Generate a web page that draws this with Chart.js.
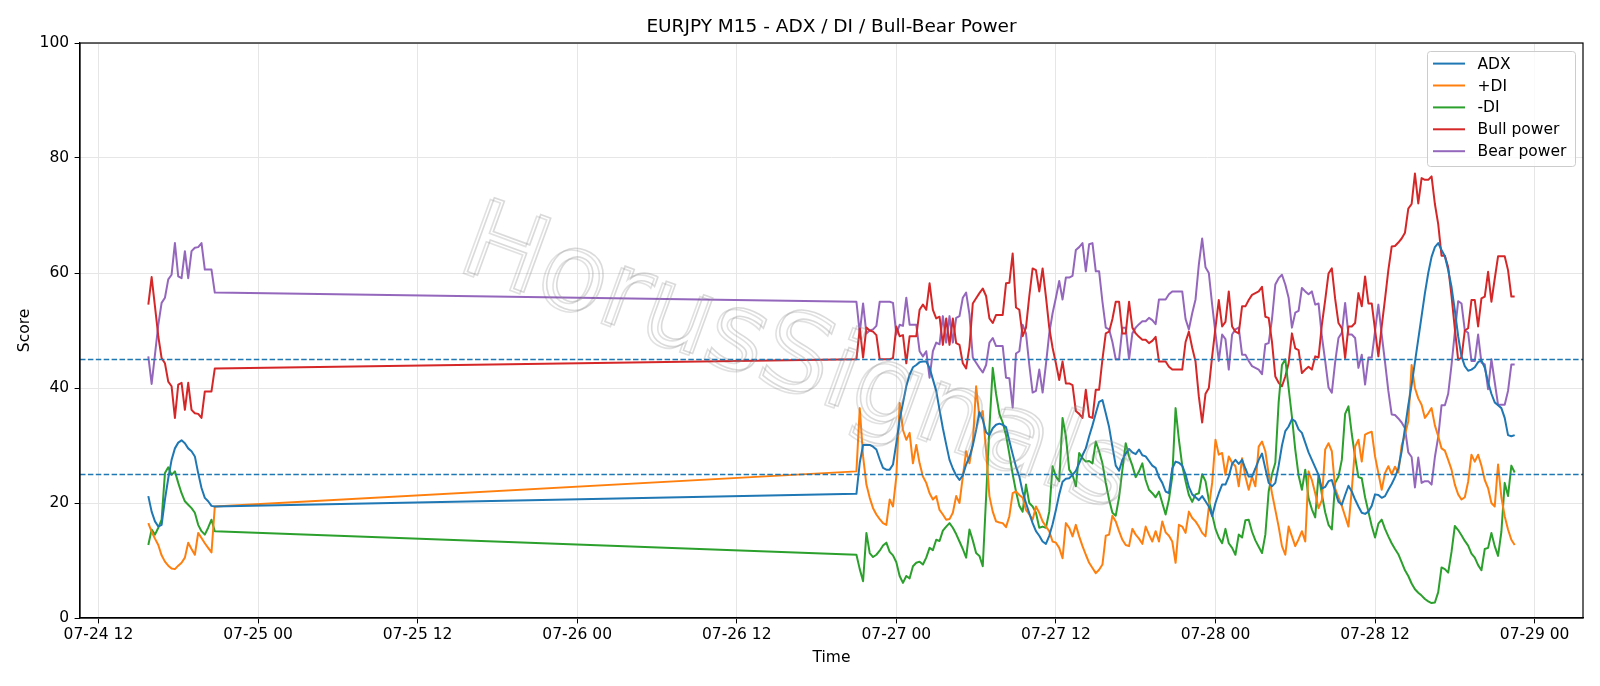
<!DOCTYPE html>
<html>
<head>
<meta charset="utf-8">
<script src="https://cdn.jsdelivr.net/npm/chart.js@4.4.1/dist/chart.umd.min.js"></script>
<style>
  html, body { margin: 0; padding: 0; background: #fff; }
</style>
</head>
<body>
<canvas id="adxChart" width="1600" height="686"></canvas>
<script>
// M15 bars, hours counted from 07-24 00:00 (two sessions with a gap between)
const sessionStart = [15.75, 69];
const sessionBars = [21, 199];

const xTicks = [12, 24, 36, 48, 60, 72, 84, 96, 108, 120];
const xTickLabels = ["07-24 12", "07-25 00", "07-25 12", "07-26 00", "07-26 12",
                     "07-27 00", "07-27 12", "07-28 00", "07-28 12", "07-29 00"];
const refLevels = [45, 25];

const adx = [
  21.2, 18.5, 16.8, 15.9, 16.2, 20.6, 24.3, 27.5, 29.5, 30.5,
  30.9, 30.4, 29.5, 29.0, 28.1, 25.2, 22.6, 20.9, 20.3, 19.5,
  19.4,
  // 07-26 21:00 onwards
  21.6, 27.0, 30.1, 30.1, 30.1, 29.8, 29.3, 27.6, 26.1, 25.8,
  25.8, 26.7, 30.4, 34.5, 37.4, 40.3, 42.3, 43.6, 44.0, 44.5,
  44.6, 44.6, 43.5, 41.5, 39.5, 36.2, 33.0, 30.2, 27.5, 26.0,
  24.8, 24.0, 24.8, 26.7, 28.0, 30.0, 32.7, 35.8, 34.5, 32.3,
  31.8, 33.0, 33.6, 33.8, 33.6, 33.2, 30.8, 28.5, 26.3, 24.6,
  21.9, 20.0, 18.2, 16.5, 15.1, 14.3, 13.3, 12.9, 14.3, 16.3,
  18.8, 21.5, 23.7, 24.2, 24.3, 24.9, 25.6, 26.9, 28.3, 29.5,
  31.6, 33.5, 35.6, 37.6, 37.9, 35.6, 33.2, 29.8, 26.5, 25.6,
  27.5, 28.6, 29.4, 28.8, 28.5, 29.3, 28.3, 28.1, 27.3, 26.5,
  26.1, 24.5, 23.5, 22.0, 21.7, 26.0, 27.2, 27.0, 26.5, 25.0,
  22.8, 21.5, 21.0, 20.5, 21.2, 20.3, 19.4, 17.7, 20.0, 21.7,
  23.2, 23.2, 24.6, 26.8, 27.5, 26.8, 27.5, 26.0, 24.6, 24.6,
  26.0, 27.5, 28.6, 26.0, 23.5, 22.9, 23.5, 26.5, 30.0, 32.5,
  33.3, 34.6, 34.2, 32.8, 32.2, 30.5, 28.8, 27.5, 26.2, 24.9,
  22.5, 22.8, 23.8, 24.0, 22.0, 20.2, 19.7, 21.4, 23.0, 22.0,
  20.6, 19.4, 18.3, 18.1, 18.5, 19.5, 21.5, 21.4, 20.9, 21.2,
  22.3, 23.3, 24.5, 26.0, 29.0, 33.0, 37.0, 40.5, 44.5, 48.5,
  52.5, 56.5, 60.0, 62.8, 64.5, 65.2, 64.0, 62.9, 60.5, 57.6,
  53.5, 49.0, 45.5, 43.8, 43.0, 43.2, 43.6, 44.5, 44.8, 43.5,
  41.0, 39.0, 37.5, 37.0, 36.5, 34.8, 31.8, 31.6, 31.8
];

const plusDI = [
  16.5, 15.0, 13.8, 12.7, 10.9, 9.8, 9.1, 8.6, 8.5, 9.1,
  9.6, 10.5, 13.1, 12.0, 11.0, 14.8, 13.9, 13.0, 12.2, 11.4,
  19.4,
  25.5, 36.5, 28.1, 23.2, 20.9, 19.1, 18.0, 17.2, 16.5, 16.2,
  20.6, 19.4, 24.6, 37.4, 32.7, 31.0, 32.2, 26.9, 30.1, 26.9,
  24.6, 23.5, 21.7, 20.6, 21.2, 18.8, 18.0, 17.1, 17.2, 18.3,
  21.2, 20.0, 24.6, 29.0, 26.9, 30.4, 40.3, 35.0, 36.0, 29.0,
  21.2, 18.5, 16.8, 16.6, 16.5, 15.8, 17.7, 21.7, 22.0, 21.4,
  20.9, 18.8, 18.0, 17.1, 19.4, 18.3, 16.8, 15.9, 15.1, 13.3,
  13.1, 12.2, 10.4, 16.5, 15.7, 14.2, 16.2, 14.2, 12.5, 11.0,
  9.6, 8.7, 7.8, 8.4, 9.3, 14.3, 14.5, 17.8, 16.8, 15.1,
  13.6, 12.7, 12.5, 15.5, 14.5, 13.8, 12.9, 15.9, 14.5, 13.3,
  15.1, 13.3, 16.8, 14.9, 14.3, 13.3, 9.6, 16.2, 15.9, 14.8,
  18.5, 17.4, 16.8, 15.9, 14.8, 14.2, 19.3, 23.5, 31.0, 28.4,
  28.7, 24.9, 28.1, 27.0, 26.4, 22.9, 27.8, 24.6, 22.3, 24.6,
  22.9, 29.8, 30.7, 29.0, 25.0, 21.7, 18.8, 15.9, 12.5, 11.0,
  15.9, 14.2, 12.5, 13.7, 15.1, 13.3, 25.5, 24.0, 21.7, 19.1,
  20.5, 29.3, 30.4, 29.0, 22.5, 21.0, 19.5, 17.7, 15.9, 22.3,
  29.8, 31.0, 27.2, 31.9, 32.2, 32.4, 28.1, 25.2, 22.3, 25.2,
  26.4, 25.0, 26.3, 25.3, 30.0, 31.9, 34.2, 44.0, 40.0, 38.2,
  37.1, 34.8, 35.6, 36.5, 33.5, 31.6, 29.5, 29.1, 27.5, 25.8,
  23.2, 21.5, 20.6, 21.0, 23.7, 28.4, 27.2, 28.4, 26.5, 24.0,
  22.6, 20.0, 19.4, 26.7, 21.0, 17.7, 15.4, 13.6, 12.7
];

const minusDI = [
  12.7, 15.4, 14.5, 15.7, 17.1, 25.2, 26.2, 24.9, 25.5, 23.5,
  21.7, 20.3, 19.7, 19.1, 18.3, 16.2, 15.1, 14.5, 15.7, 17.1,
  15.1,
  11.0, 8.5, 6.4, 14.8, 11.3, 10.6, 11.0, 11.7, 12.6, 13.1,
  11.5, 10.9, 9.7, 7.3, 6.1, 7.3, 6.9, 9.0, 9.6, 9.8,
  9.3, 10.5, 12.2, 11.8, 13.6, 13.4, 15.2, 15.9, 16.5, 15.7,
  14.6, 13.3, 12.0, 10.5, 15.4, 13.5, 11.3, 10.8, 9.0, 21.0,
  33.0, 43.5, 39.0, 35.5, 34.0, 31.8, 28.5, 25.0, 22.0, 19.5,
  18.5, 23.2, 20.0, 19.4, 18.3, 15.7, 15.9, 15.7, 18.5, 26.4,
  24.6, 23.8, 34.8, 31.6, 25.8, 24.9, 22.9, 28.7, 27.8, 27.2,
  27.3, 26.9, 30.7, 29.0, 26.9, 23.5, 20.6, 18.3, 17.8, 21.0,
  25.8, 30.4, 28.1, 26.5, 24.5, 25.5, 26.9, 24.0, 22.3, 21.7,
  21.0, 22.0, 20.0, 18.0, 20.6, 24.6, 36.5, 31.0, 26.5, 23.8,
  21.4, 20.2, 21.5, 21.7, 25.0, 23.8, 20.5, 18.0, 15.5, 14.0,
  13.0, 15.5, 13.0, 12.2, 11.0, 14.5, 14.0, 17.0, 17.1, 15.0,
  13.5, 12.4, 11.3, 14.5, 22.0, 25.0, 27.0, 37.5, 44.0, 45.0,
  40.0, 35.0, 29.3, 24.8, 22.3, 25.8, 20.8, 18.9, 17.5, 25.0,
  21.5, 18.4, 16.2, 15.4, 23.5, 24.6, 27.5, 35.5, 36.8, 32.0,
  28.0, 24.5, 24.3, 21.0, 18.5, 16.0, 14.0, 16.4, 17.1, 15.5,
  14.2, 13.0, 12.0, 11.1, 9.7, 8.3, 7.3, 6.0, 5.0, 4.4,
  3.9, 3.3, 2.9, 2.6, 2.7, 4.5, 8.8, 8.5, 7.9, 11.5,
  16.0, 15.3, 14.4, 13.4, 12.6, 11.2, 10.5, 9.2, 8.3, 12.0,
  12.2, 14.8, 12.5, 10.8, 15.0, 23.5, 21.2, 26.5, 25.3
];

const bullPower = [
  54.5, 59.3, 54.2, 49.0, 45.2, 44.3, 41.1, 40.3, 34.8, 40.6,
  40.9, 36.2, 40.9, 36.2, 35.6, 35.5, 34.8, 39.4, 39.4, 39.4,
  43.4,
  45.0, 50.4, 45.3, 50.5, 50.0, 49.8, 49.2, 45.0, 45.0, 45.0,
  45.0, 45.2, 50.7, 49.0, 49.2, 44.3, 49.0, 49.0, 49.0, 53.6,
  54.5, 53.6, 58.2, 53.6, 52.1, 52.4, 47.5, 52.1, 47.5, 52.1,
  47.8, 47.5, 44.3, 43.4, 47.2, 54.7, 55.6, 56.5, 57.3, 56.0,
  52.1, 51.3, 52.7, 52.7, 52.7, 58.2, 58.3, 63.4, 54.0, 53.6,
  49.0, 50.5, 56.0, 60.8, 60.5, 56.8, 60.8, 55.9, 50.5, 47.0,
  44.3, 41.4, 44.6, 40.8, 40.8, 40.5, 36.0, 35.5, 34.8, 39.7,
  35.0, 34.8, 39.7, 39.7, 45.0, 49.5, 49.8, 52.0, 55.0, 55.0,
  49.5, 49.5, 55.0, 50.5, 49.5, 48.9, 48.4, 48.4, 47.8, 48.2,
  48.9, 44.6, 44.6, 44.6, 43.7, 43.2, 43.2, 43.2, 43.2, 48.0,
  49.8, 47.0, 44.6, 38.5, 34.0, 39.0, 40.0, 45.5, 50.5, 55.3,
  50.7, 51.5, 56.8, 50.7, 49.8, 49.5, 54.2, 54.2, 55.3, 56.2,
  56.5, 56.8, 57.6, 52.4, 52.2, 48.0, 42.0, 40.9, 40.3, 42.0,
  44.3, 49.5, 46.9, 46.6, 42.6, 43.2, 43.7, 43.2, 45.5, 45.3,
  51.0, 55.3, 59.9, 60.8, 55.5, 51.3, 50.4, 45.2, 50.7, 50.7,
  51.3, 56.5, 54.2, 59.4, 54.7, 54.7, 50.1, 45.5, 50.7, 55.5,
  60.5, 64.6, 64.7, 65.3, 66.0, 67.0, 71.2, 72.0, 77.3, 72.1,
  76.5, 76.2, 76.2, 76.8, 72.0, 68.5, 63.0, 63.0, 61.0, 56.0,
  50.3, 44.9, 45.3, 50.0, 50.4, 55.3, 55.3, 50.7, 55.6, 55.9,
  60.2, 55.0, 59.0, 62.9, 62.9, 62.9, 60.5, 55.9, 55.9
];

const bearPower = [
  45.5, 40.7, 45.8, 51.0, 54.8, 55.7, 58.9, 59.7, 65.2, 59.4,
  59.1, 63.8, 59.1, 63.8, 64.4, 64.5, 65.2, 60.6, 60.6, 60.6,
  56.6,
  55.0, 49.6, 54.7, 49.5, 50.0, 50.2, 50.8, 55.0, 55.0, 55.0,
  55.0, 54.8, 49.3, 51.0, 50.8, 55.7, 51.0, 51.0, 51.0, 46.4,
  45.5, 46.4, 41.8, 46.4, 47.9, 47.6, 52.5, 47.9, 52.5, 47.9,
  52.2, 52.5, 55.7, 56.6, 52.8, 45.3, 44.4, 43.5, 42.7, 44.0,
  47.9, 48.7, 47.3, 47.3, 47.3, 41.8, 41.7, 36.6, 46.0, 46.4,
  51.0, 49.5, 44.0, 39.2, 39.5, 43.2, 39.2, 44.1, 49.5, 53.0,
  55.7, 58.6, 55.4, 59.2, 59.2, 59.5, 64.0, 64.5, 65.2, 60.3,
  65.0, 65.2, 60.3, 60.3, 55.0, 50.5, 50.2, 48.0, 45.0, 45.0,
  50.5, 50.5, 45.0, 49.5, 50.5, 51.1, 51.6, 51.6, 52.2, 51.8,
  51.1, 55.4, 55.4, 55.4, 56.3, 56.8, 56.8, 56.8, 56.8, 52.0,
  50.2, 53.0, 55.4, 61.5, 66.0, 61.0, 60.0, 54.5, 49.5, 44.7,
  49.3, 48.5, 43.2, 49.3, 50.2, 50.5, 45.8, 45.8, 44.7, 43.8,
  43.5, 43.2, 42.4, 47.6, 47.8, 52.0, 58.0, 59.1, 59.7, 58.0,
  55.7, 50.5, 53.1, 53.4, 57.4, 56.8, 56.3, 56.8, 54.5, 54.7,
  49.0, 44.7, 40.1, 39.2, 44.5, 48.7, 49.6, 54.8, 49.3, 49.3,
  48.7, 43.5, 45.8, 40.6, 45.3, 45.3, 49.9, 54.5, 49.3, 44.5,
  39.5, 35.4, 35.3, 34.7, 34.0, 33.0, 28.8, 28.0, 22.7, 27.9,
  23.5, 23.8, 23.8, 23.2, 28.0, 31.5, 37.0, 37.0, 39.0, 44.0,
  49.7, 55.1, 54.7, 50.0, 49.6, 44.7, 44.7, 49.3, 44.4, 44.1,
  39.8, 45.0, 41.0, 37.1, 37.1, 37.1, 39.5, 44.1, 44.1
];

// bar times
const times = [];
sessionStart.forEach((h0, s) => {
  for (let i = 0; i < sessionBars[s]; i++) times.push(h0 + i * 0.25);
});
const tMin = times[0], tMax = times[times.length - 1];
const xPad = (tMax - tMin) * 0.05;

const font = { family: 'DejaVu Sans', size: 15.5 };
Chart.defaults.font.family = 'DejaVu Sans';
Chart.defaults.color = '#000';

function series(label, values, color) {
  return {
    label: label,
    data: times.map((t, i) => ({ x: t, y: values[i] })),
    borderColor: color,
    backgroundColor: color,
    borderWidth: 2,
    pointRadius: 0,
    tension: 0,
    fill: false,
    borderJoinStyle: 'round'
  };
}

// dashed reference levels
const refLines = {
  id: 'refLines',
  afterDatasetsDraw(chart) {
    const ctx = chart.ctx, a = chart.chartArea, y = chart.scales.y;
    ctx.save();
    ctx.strokeStyle = '#1f77b4';
    ctx.lineWidth = 1.4;
    ctx.setLineDash([5.5, 2.4]);
    refLevels.forEach(v => {
      const yp = Math.round(y.getPixelForValue(v)) + 0.5;
      ctx.beginPath();
      ctx.moveTo(a.left, yp);
      ctx.lineTo(a.right, yp);
      ctx.stroke();
    });
    ctx.restore();
  }
};

// watermark, box frame, title, legend
const decorations = {
  id: 'decorations',
  afterDraw(chart) {
    const ctx = chart.ctx, a = chart.chartArea;
    ctx.save();

    // watermark
    ctx.save();
    ctx.translate(798, 362);
    ctx.rotate(20 * Math.PI / 180);
    ctx.font = '108px "DejaVu Sans"';
    ctx.textAlign = 'center';
    ctx.textBaseline = 'middle';
    ctx.lineWidth = 1.6;
    ctx.strokeStyle = 'rgba(90,90,90,0.18)';
    ctx.strokeText('HorusSignals', -3, 3);
    ctx.strokeStyle = 'rgba(150,150,150,0.35)';
    ctx.strokeText('HorusSignals', 0, 0);
    ctx.restore();

    // frame
    ctx.strokeStyle = '#000';
    ctx.lineWidth = 1.2;
    ctx.strokeRect(a.left, a.top, a.right - a.left, a.bottom - a.top);

    // title
    ctx.fillStyle = '#000';
    ctx.font = '18.5px "DejaVu Sans"';
    ctx.textAlign = 'center';
    ctx.textBaseline = 'middle';
    ctx.fillText('EURJPY M15 - ADX / DI / Bull-Bear Power', (a.left + a.right) / 2, 27.5);

    // legend
    const w = 148, h = 115;
    const lx = a.right - 8 - w, ly = a.top + 8;
    ctx.fillStyle = 'rgba(255,255,255,0.8)';
    ctx.strokeStyle = '#cccccc';
    ctx.lineWidth = 1;
    ctx.beginPath();
    ctx.roundRect(lx + 0.5, ly + 0.5, w, h, 3);
    ctx.fill();
    ctx.stroke();
    ctx.font = '15.5px "DejaVu Sans"';
    ctx.textAlign = 'left';
    chart.data.datasets.forEach((ds, i) => {
      const cy = ly + 12.6 + i * 21.9;
      ctx.strokeStyle = ds.borderColor;
      ctx.lineWidth = 2;
      ctx.beginPath();
      ctx.moveTo(lx + 6, cy);
      ctx.lineTo(lx + 38, cy);
      ctx.stroke();
      ctx.fillStyle = '#000';
      ctx.fillText(ds.label, lx + 50.5, cy + 1);
    });
    ctx.restore();
  }
};

new Chart('adxChart', {
  type: 'line',
  data: {
    datasets: [
      series('ADX', adx, '#1f77b4'),
      series('+DI', plusDI, '#ff7f0e'),
      series('-DI', minusDI, '#2ca02c'),
      series('Bull power', bullPower, '#d62728'),
      series('Bear power', bearPower, '#9467bd')
    ]
  },
  options: {
    responsive: false,
    animation: false,
    devicePixelRatio: 1,
    layout: { padding: { top: 43, right: 17, left: 0, bottom: 0 } },
    plugins: {
      legend: { display: false },
      title: { display: false },
      tooltip: { enabled: false }
    },
    scales: {
      x: {
        type: 'linear',
        min: tMin - xPad,
        max: tMax + xPad,
        afterBuildTicks: s => { s.ticks = xTicks.map(v => ({ value: v })); },
        afterFit: s => { s.height = 68; },
        ticks: {
          font: font, color: '#000', padding: 2, maxRotation: 0, autoSkip: false,
          callback: (v, i) => xTickLabels[i]
        },
        grid: { color: '#e6e6e6', lineWidth: 1, tickLength: 5.4, tickColor: '#000', tickWidth: 1 },
        border: { color: '#000', width: 1.2 },
        title: { display: true, text: 'Time', font: font, color: '#000', padding: { top: 0, bottom: 18.5 } }
      },
      y: {
        min: 0,
        max: 100,
        afterFit: s => { s.width = 80; },
        ticks: { stepSize: 20, font: font, color: '#000', padding: 5.5 },
        grid: { color: '#e6e6e6', lineWidth: 1, tickLength: 5.4, tickColor: '#000', tickWidth: 1 },
        border: { color: '#000', width: 1.2 },
        title: { display: true, text: 'Score', font: font, color: '#000', padding: { top: 16, bottom: 0 } }
      }
    }
  },
  plugins: [refLines, decorations]
});
</script>
</body>
</html>
